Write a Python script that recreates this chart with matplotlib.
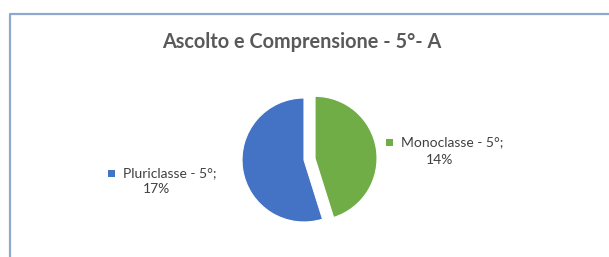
import matplotlib
matplotlib.use("Agg")
import matplotlib.pyplot as plt
from matplotlib.patches import Rectangle
from matplotlib.lines import Line2D

# data
categories = ["Monoclasse - 5°", "Pluriclasse - 5°"]
percent = [14, 17]
colors = ["#70AD47", "#4472C4"]
title = "Ascolto e Comprensione - 5°- A"

W, H = 609, 257
fig = plt.figure(figsize=(W / 100, H / 100), dpi=100)
fig.patch.set_facecolor("white")


def fx(px):
    return px / W


def fy(py):
    return 1 - py / H


# chart border (runs off the right and bottom edge)
fig.add_artist(Line2D([fx(9.5), fx(9.5), fx(W + 5)], [fy(H + 5), fy(13.5), fy(13.5)],
                      transform=fig.transFigure, color="#8EA9CF", lw=1.6))

# pie
cx, cy, r = 304, 160, 62
half = 80
ax = fig.add_axes([fx(cx - half), fy(cy + half), 2 * half / W, 2 * half / H])
ax.pie(percent, colors=colors, startangle=90, counterclock=False,
       explode=[0.18, 0], wedgeprops=dict(edgecolor="white", linewidth=0.8))
ax.set_xlim(-half / r, half / r)
ax.set_ylim(-half / r, half / r)

fig.text(fx(302), fy(42), title, ha="center", va="center",
         fontsize=14.3, fontweight="bold", color="#595959", family="Lato")

# data labels with legend keys
label_pos = [(386, 142, 440, 160), (108, 173, 156, 189)]
for name, val, col, (kx, ky, vx, vy) in zip(categories, percent, colors, label_pos):
    fig.add_artist(Rectangle((fx(kx), fy(ky + 3.5)), 7 / W, 7 / H,
                             transform=fig.transFigure, facecolor=col, edgecolor="none"))
    fig.text(fx(kx + 15), fy(ky), name + ";", ha="left", va="center",
             fontsize=10, color="#404040", family="Lato")
    fig.text(fx(vx), fy(vy), f"{val}%", ha="center", va="center",
             fontsize=10, color="#404040", family="Lato")

fig.savefig("out.png", dpi=100)
